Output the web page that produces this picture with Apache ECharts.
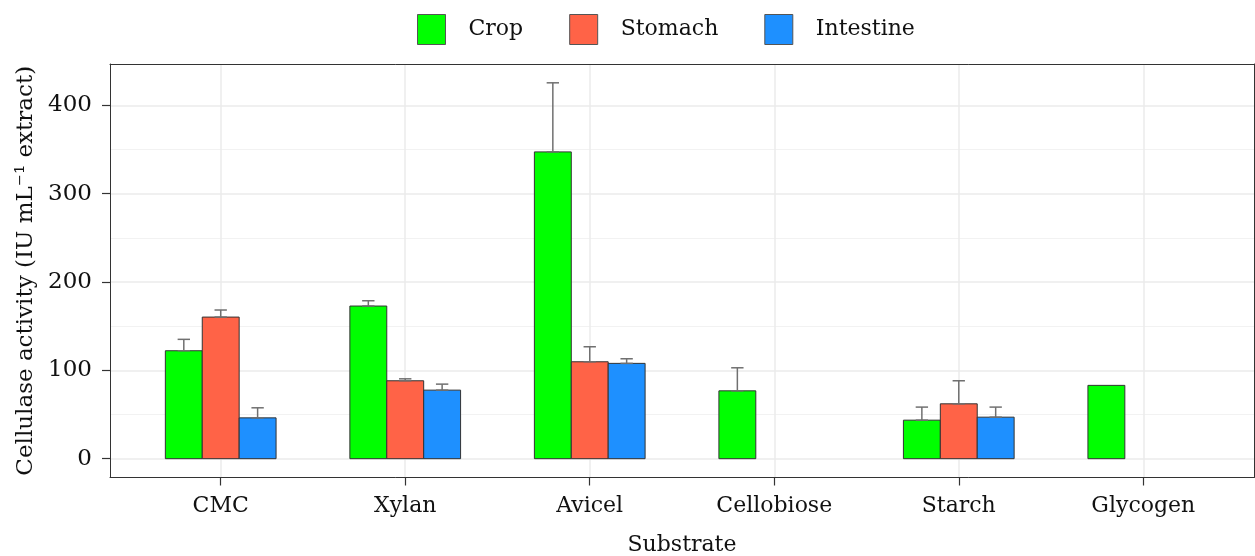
<!DOCTYPE html>
<html>
<head>
<meta charset="utf-8">
<script src="https://cdn.jsdelivr.net/npm/echarts@6/dist/echarts.min.js"></script>
<style>html,body{margin:0;padding:0;background:#fff}#chart{width:1255px;height:556px}</style>
</head>
<body>
<div id="chart"></div>
<script>
const categories = ['CMC', 'Xylan', 'Avicel', 'Cellobiose', 'Starch', 'Glycogen'];
const seriesNames = ['Crop', 'Stomach', 'Intestine'];
const cropValues = [122.2, 172.8, 347.3, 76.8, 43.6, 83.0];
const cropErrors = [12.9, 6.0, 78.2, 26.1, 14.8, null];
const stomachValues = [160.3, 88.2, 109.7, null, 62.1, null];
const stomachErrors = [8.0, 2.2, 17.0, null, 26.1, null];
const intestineValues = [46.2, 77.6, 107.9, null, 47.0, null];
const intestineErrors = [11.4, 6.8, 5.2, null, 11.4, null];
const yTicks = [0, 100, 200, 300, 400];
const yMinorTicks = [50, 150, 250, 350];

const colors = ['#00FF00', '#FF6347', '#1E90FF'];
const valueSets = [cropValues, stomachValues, intestineValues];
const errorSets = [cropErrors, stomachErrors, intestineErrors];
const barW = 0.2;
const offsets = [-0.2, 0, 0.2];
const capW = 0.067;
const catIdx = categories.map((c, i) => i);

const font = 'DejaVu Serif';
const chart = echarts.init(document.getElementById('chart'), null, {renderer: 'canvas'});

function makeSeries(si) {
  const data = [];
  valueSets[si].forEach((v, i) => {
    if (v !== null) data.push([i, v, errorSets[si][i] || 0]);
  });
  return {
    name: seriesNames[si],
    type: 'custom',
    z: 10,
    itemStyle: {color: colors[si], borderColor: '#333', borderWidth: 1},
    encode: {x: 0, y: 1},
    data: data,
    renderItem: function (params, api) {
      const idx = api.value(0), v = api.value(1), e = api.value(2);
      const cx = idx + offsets[si];
      const p0 = api.coord([cx - barW / 2, v]);
      const p1 = api.coord([cx + barW / 2, 0]);
      const children = [{
        type: 'rect',
        shape: {x: p0[0], y: p0[1], width: p1[0] - p0[0], height: p1[1] - p0[1]},
        style: {fill: colors[si], stroke: '#333', lineWidth: 1}
      }];
      if (e > 0) {
        const top = api.coord([cx, v + e]);
        const bot = api.coord([cx, v]);
        const cl = api.coord([cx - capW / 2, v])[0];
        const cr = api.coord([cx + capW / 2, v])[0];
        const es = {stroke: '#707070', lineWidth: 1.5};
        children.push({type: 'line', shape: {x1: top[0], y1: top[1], x2: bot[0], y2: bot[1]}, style: es});
        children.push({type: 'line', shape: {x1: cl, y1: top[1], x2: cr, y2: top[1]}, style: es});
        children.push({type: 'line', shape: {x1: cl, y1: bot[1], x2: cr, y2: bot[1]}, style: es});
      }
      return {type: 'group', children: children};
    }
  };
}

const gridLines = [];
yTicks.forEach(t => gridLines.push({yAxis: t, lineStyle: {color: '#EBEBEB', width: 1.5, type: 'solid'}}));
yMinorTicks.forEach(t => gridLines.push({yAxis: t, lineStyle: {color: '#F2F2F2', width: 1, type: 'solid'}}));
catIdx.forEach(i => gridLines.push({xAxis: i, lineStyle: {color: '#EBEBEB', width: 1.5, type: 'solid'}}));

const frameAxis = {
  axisLine: {show: true, onZero: false, lineStyle: {color: '#333', width: 1}},
  axisTick: {show: false}, axisLabel: {show: false}, splitLine: {show: false}
};

const option = {
  animation: false,
  color: colors,
  textStyle: {fontFamily: font},
  legend: {
    data: seriesNames,
    left: 417,
    top: 14,
    padding: 0,
    icon: 'rect',
    itemWidth: 28,
    itemHeight: 30,
    itemGap: 46,
    itemStyle: {borderColor: '#555', borderWidth: 1},
    textStyle: {fontFamily: font, fontSize: 22, color: '#111', padding: [0, 0, 0, 18]}
  },
  grid: {left: 110, right: 1, top: 64, bottom: 78.5, outerBoundsMode: 'none', containLabel: false},
  xAxis: [{
    type: 'value',
    min: -0.6,
    max: 5.6,
    name: 'Substrate',
    nameLocation: 'middle',
    nameGap: 57,
    nameTextStyle: {fontFamily: font, fontSize: 22, color: '#111'},
    axisLine: {show: true, onZero: false, lineStyle: {color: '#333', width: 1}},
    axisTick: {show: true, length: 8, customValues: catIdx, lineStyle: {color: '#333', width: 1.2}},
    axisLabel: {customValues: catIdx, margin: 18, fontFamily: font, fontSize: 22, color: '#111',
      formatter: v => categories[Math.round(v)]},
    splitLine: {show: false}
  }, Object.assign({type: 'value', position: 'top', min: -0.6, max: 5.6}, frameAxis)],
  yAxis: [{
    type: 'value',
    min: -21.3,
    max: 446.8,
    name: 'Cellulase activity (IU mL\u207B\u00B9 extract)',
    nameLocation: 'middle',
    nameGap: 63,
    nameTextStyle: {fontFamily: font, fontSize: 23, color: '#111'},
    axisLine: {show: true, onZero: false, lineStyle: {color: '#333', width: 1}},
    axisTick: {show: true, length: 8, customValues: yTicks, lineStyle: {color: '#333', width: 1.2}},
    axisLabel: {customValues: yTicks, margin: 18, fontFamily: font, fontSize: 23, color: '#111'},
    splitLine: {show: false}
  }, Object.assign({type: 'value', position: 'right', min: -21.3, max: 446.8}, frameAxis)],
  series: [
    {
      type: 'line',
      data: [],
      z: 0,
      zlevel: 0,
      silent: true,
      markLine: {z: 0, silent: true, symbol: ['none', 'none'], label: {show: false}, animation: false, data: gridLines}
    },
    makeSeries(0), makeSeries(1), makeSeries(2)
  ]
};
chart.setOption(option);
</script>
</body>
</html>
